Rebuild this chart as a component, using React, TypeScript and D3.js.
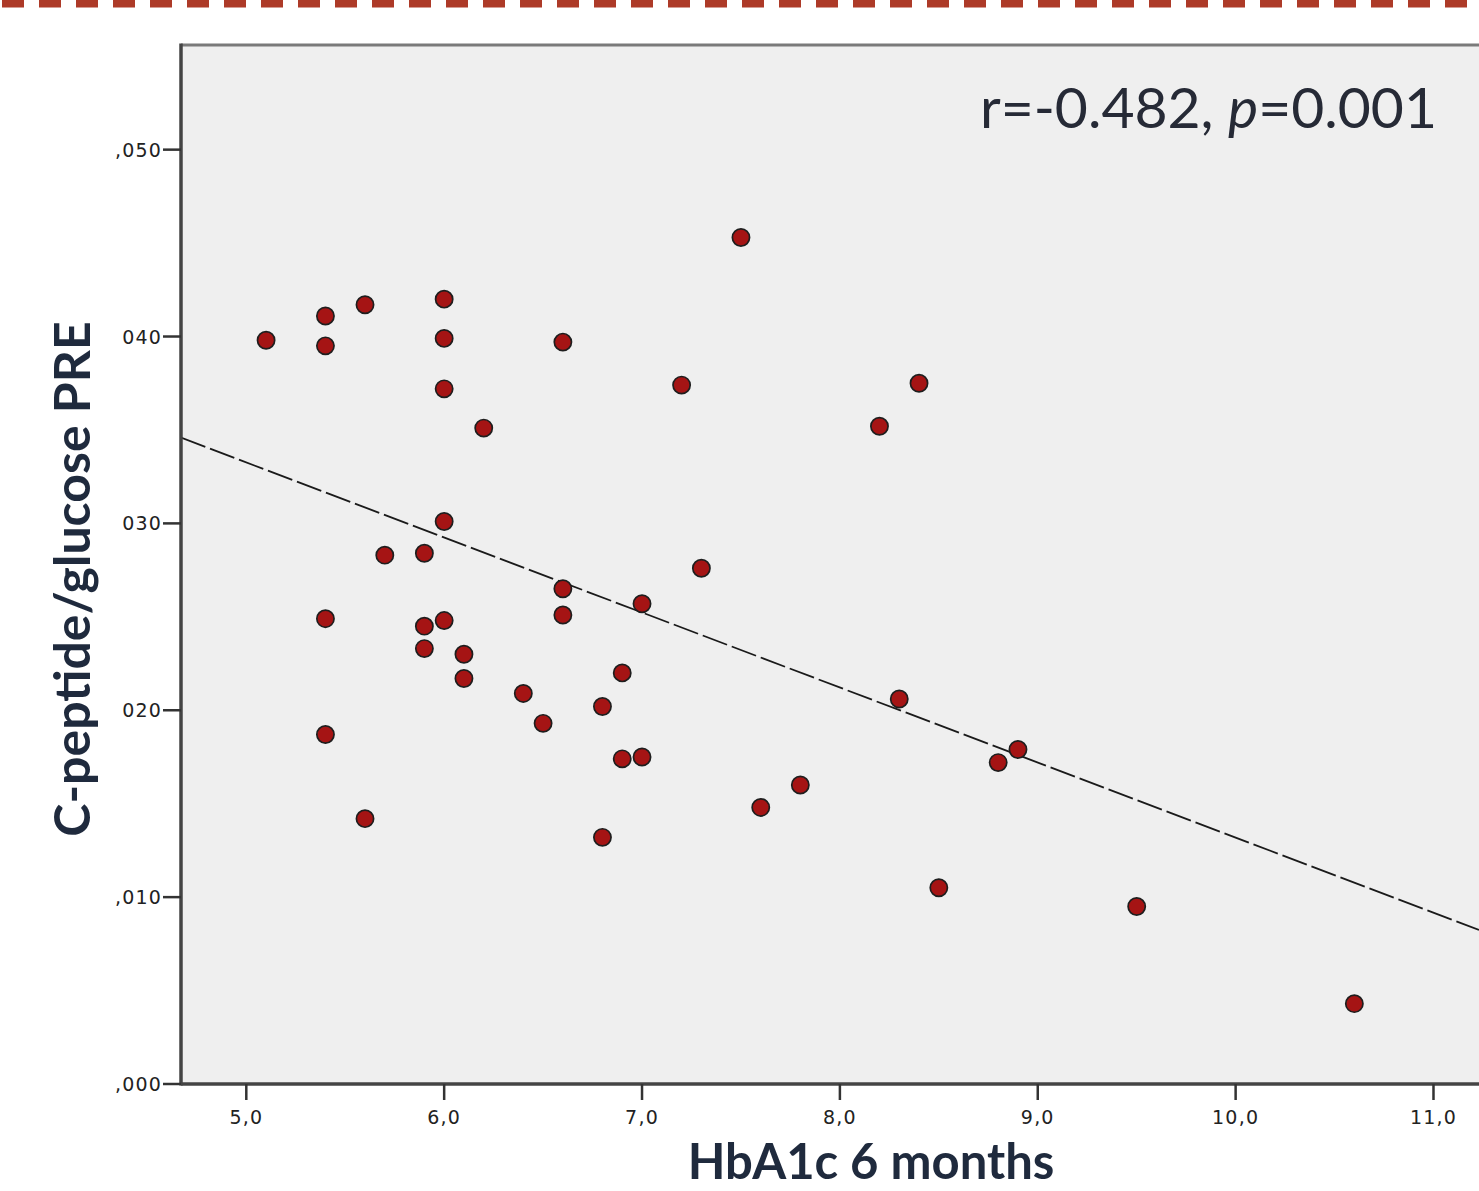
import React from "react";
import * as d3 from "d3";

const hba1c = [5.1,5.4,5.4,5.6,6.0,6.0,6.0,6.2,6.6,7.5,7.2,8.4,8.2,6.0,5.7,5.9,5.4,5.9,6.0,5.9,6.1,6.1,5.4,5.6,6.6,6.6,7.0,7.3,6.4,6.5,6.8,6.9,6.9,7.0,6.8,7.6,7.8,8.3,8.8,8.9,8.5,9.5,10.6];
const ratio = [.0398,.0411,.0395,.0417,.0420,.0399,.0372,.0351,.0397,.0453,.0374,.0375,.0352,.0301,.0283,.0284,.0249,.0245,.0248,.0233,.0230,.0217,.0187,.0142,.0265,.0251,.0257,.0276,.0209,.0193,.0202,.0220,.0174,.0175,.0132,.0148,.0160,.0206,.0172,.0179,.0105,.0095,.0043];
const xTicks = [5,6,7,8,9,10,11];
const xTickLabels = ["5,0","6,0","7,0","8,0","9,0","10,0","11,0"];
const yTicks = [0,0.01,0.02,0.03,0.04,0.05];
const yTickLabels = [",000",",010","020","030","040",",050"];
const xTitle = "HbA1c 6 months";
const yTitle = "C-peptide/glucose PRE";

export default function App() {
  const W = 1479, H = 1191;
  const left = 181, top = 45, bottom = 1084, right = 1479;
  const x = d3.scaleLinear().domain([4.67, 11.23]).range([left, right]);
  const y = d3.scaleLinear().domain([0, 0.0556]).range([bottom, top]);

  const mx = d3.mean(hba1c)!, my = d3.mean(ratio)!;
  let sxy = 0, sxx = 0;
  hba1c.forEach((v, i) => { sxy += (v - mx) * (ratio[i] - my); sxx += (v - mx) ** 2; });
  const slope = sxy / sxx, icpt = my - slope * mx;
  const [x0, x1] = x.domain();
  const line = d3.line<number>().x(d => x(d)).y(d => y(icpt + slope * d));

  const tickFont = "'DejaVu Sans', sans-serif";
  const titleFont = "Lato, 'Open Sans', sans-serif";

  return (
    <svg width={W} height={H} style={{ position: "absolute", left: 0, top: 0, background: "#fff" }}>
      <line x1={0} x2={W} y1={3.5} y2={3.5} stroke="#ad3a28" strokeWidth={8} strokeDasharray="22 15" strokeDashoffset={-2} />
      <rect x={left} y={top} width={right - left} height={bottom - top} fill="#efefef" />
      <line x1={left} x2={right} y1={top} y2={top} stroke="#7a7a7a" strokeWidth={3} />
      <defs>
        <clipPath id="plotclip"><rect x={left} y={top} width={right - left} height={bottom - top} /></clipPath>
      </defs>
      <path d={line([x0, x1]) || ""} fill="none" stroke="#1a1a1a" strokeWidth={1.8} strokeDasharray="26 5" clipPath="url(#plotclip)" />
      {hba1c.map((v, i) => (
        <circle key={i} cx={x(v)} cy={y(ratio[i])} r={8.6} fill="#a51414" stroke="#1e1e1e" strokeWidth={1.7} />
      ))}
      <line x1={left} x2={left} y1={top - 1.5} y2={bottom + 1.5} stroke="#444" strokeWidth={3.5} />
      <line x1={left} x2={right} y1={bottom} y2={bottom} stroke="#444" strokeWidth={3.5} />
      {yTicks.map((t, i) => (
        <g key={i}>
          <line x1={left - 18} x2={left} y1={y(t)} y2={y(t)} stroke="#333" strokeWidth={2.5} />
          <text x={left - 19} y={y(t) + 7} textAnchor="end" fontFamily={tickFont} fontSize={19} letterSpacing={1.2} fill="#222">{yTickLabels[i]}</text>
        </g>
      ))}
      {xTicks.map((t, i) => (
        <g key={i}>
          <line x1={x(t)} x2={x(t)} y1={bottom} y2={bottom + 16} stroke="#333" strokeWidth={2.5} />
          <text x={x(t)} y={bottom + 40} textAnchor="middle" fontFamily={tickFont} fontSize={19} letterSpacing={1.2} fill="#222">{xTickLabels[i]}</text>
        </g>
      ))}
      <text x={871} y={1179} textAnchor="middle" fontFamily={titleFont} fontWeight={700} fontSize={49} fill="#1f2a3d">{xTitle}</text>
      <text transform={`translate(90, ${579}) rotate(-90)`} textAnchor="middle" fontFamily={titleFont} fontWeight={700} fontSize={50} fill="#1f2a3d">{yTitle}</text>
      <text x={1437} y={128} textAnchor="end" fontFamily={titleFont} fontSize={57} fill="#262a36">
        r=-0.482, <tspan fontStyle="italic">p</tspan>=0.001
      </text>
    </svg>
  );
}
